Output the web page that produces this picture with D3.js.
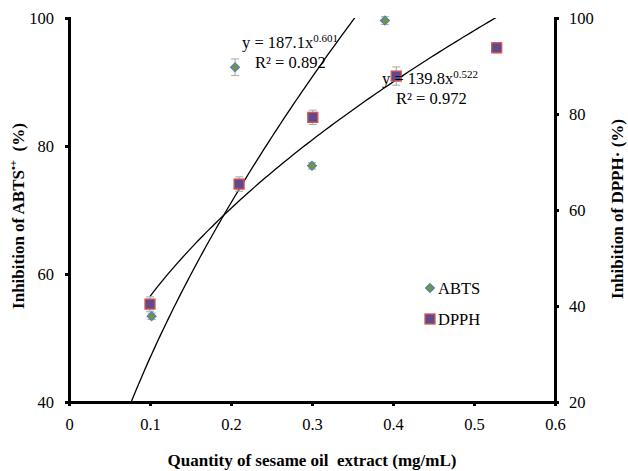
<!DOCTYPE html>
<html>
<head>
<meta charset="utf-8">
<script src="https://cdn.jsdelivr.net/npm/d3@7"></script>
<style>
  body { margin: 0; background: #fff; }
  svg text { font-family: "Liberation Serif", "Times New Roman", serif !important; }
  .label { font-size: 17px; font-weight: bold; }
  .eq { font-size: 16.5px; }
</style>
</head>
<body>
<svg width="628" height="471"></svg>
<script>
// data
var abtsX = [0.102, 0.205, 0.3, 0.39];
var abtsY = [53.4, 92.3, 76.9, 99.6];
var abtsErr = [0.5, 1.3, 0.5, 0.6];

var dpphX = [0.1, 0.21, 0.301, 0.404, 0.528];
var dpphY = [40.4, 65.4, 79.3, 87.9, 93.8];
var dpphErr = [1.5, 1.5, 1.5, 1.9, 1.1];

// power trendlines y = a * x^b (as printed on the chart)
var abtsFit = [187.1, 0.601];
var dpphFit = [139.8, 0.522];

var xTicks = [0, 0.1, 0.2, 0.3, 0.4, 0.5, 0.6];
var leftTicks = [40, 60, 80, 100];
var rightTicks = [20, 40, 60, 80, 100];

var svg = d3.select('svg');

var xScale = d3.scaleLinear().domain([0, 0.6]).range([69, 555]);
var yLeft = d3.scaleLinear().domain([40, 100]).range([402, 18]);
var yRight = d3.scaleLinear().domain([20, 100]).range([402, 18]);

svg.append('defs').append('clipPath').attr('id', 'plot')
    .append('rect').attr('x', 69).attr('y', 18).attr('width', 486).attr('height', 384);

// axes
svg.append('g').attr('class', 'x axis')
    .attr('transform', 'translate(0,402)')
    .call(d3.axisBottom(xScale).tickValues(xTicks).tickSize(4).tickPadding(12)
        .tickFormat(function(d) { return d === 0 ? '0' : d3.format('.1f')(d); }));

svg.append('g').attr('class', 'y axis')
    .attr('transform', 'translate(69,0)')
    .call(d3.axisLeft(yLeft).tickValues(leftTicks).tickSize(4).tickPadding(11));

svg.append('g').attr('class', 'y2 axis')
    .attr('transform', 'translate(555,0)')
    .call(d3.axisRight(yRight).tickValues(rightTicks).tickSize(4).tickPadding(10));

svg.selectAll('.axis').attr('font-size', 16.5);
svg.selectAll('.axis path').attr('stroke', '#000').attr('stroke-width', 3);
svg.selectAll('.axis line').attr('stroke', '#000').attr('stroke-width', 3);
svg.selectAll('.axis text').attr('fill', '#000');

// trendlines
var line = d3.line();
function fitPoints(fit, x0, x1, ys) {
    return d3.range(0, 101).map(function(i) {
        var x = x0 + (x1 - x0) * i / 100;
        return [xScale(x), ys(fit[0] * Math.pow(x, fit[1]))];
    });
}
var fits = svg.append('g').attr('clip-path', 'url(#plot)');
fits.append('path')
    .attr('d', line(fitPoints(abtsFit, 0.06, 0.39, yLeft)))
    .attr('fill', 'none').attr('stroke', '#000').attr('stroke-width', 1.3);
fits.append('path')
    .attr('d', line(fitPoints(dpphFit, 0.1, 0.53, yRight)))
    .attr('fill', 'none').attr('stroke', '#000').attr('stroke-width', 1.3);

// error bars
function errBars(xs, ys, es, scale) {
    var g = svg.append('g').attr('stroke', '#a6a6a6').attr('stroke-width', 1);
    xs.forEach(function(x, i) {
        var cx = xScale(x), t = scale(ys[i] + es[i]), b = scale(ys[i] - es[i]);
        g.append('line').attr('x1', cx).attr('x2', cx).attr('y1', t).attr('y2', b);
        g.append('line').attr('x1', cx - 4).attr('x2', cx + 4).attr('y1', t).attr('y2', t);
        g.append('line').attr('x1', cx - 4).attr('x2', cx + 4).attr('y1', b).attr('y2', b);
    });
}
errBars(abtsX, abtsY, abtsErr, yLeft);
errBars(dpphX, dpphY, dpphErr, yRight);

// markers
var diamond = d3.symbol().type(d3.symbolDiamond2).size(50);
svg.selectAll('.abts').data(abtsX).enter().append('path')
    .attr('class', 'abts')
    .attr('d', diamond)
    .attr('transform', function(d, i) { return 'translate(' + xScale(d) + ',' + yLeft(abtsY[i]) + ')'; })
    .attr('fill', '#77933c').attr('stroke', '#4f81bd').attr('stroke-width', 1.2);

svg.selectAll('.dpph').data(dpphX).enter().append('rect')
    .attr('class', 'dpph')
    .attr('x', function(d) { return xScale(d) - 5; })
    .attr('y', function(d, i) { return yRight(dpphY[i]) - 5; })
    .attr('width', 10).attr('height', 10)
    .attr('fill', '#5f4b8b').attr('stroke', '#d9534f').attr('stroke-width', 1.3);

// equations
var eq1 = svg.append('text').attr('class', 'eq').attr('x', 242).attr('y', 48);
eq1.append('tspan').text('y = 187.1x');
eq1.append('tspan').attr('font-size', 11).attr('dy', -6).text('0.601');
svg.append('text').attr('class', 'eq').attr('x', 255).attr('y', 68).text('R² = 0.892');

var eq2 = svg.append('text').attr('class', 'eq').attr('x', 382).attr('y', 84);
eq2.append('tspan').text('y = 139.8x');
eq2.append('tspan').attr('font-size', 11).attr('dy', -6).text('0.522');
svg.append('text').attr('class', 'eq').attr('x', 396).attr('y', 104).text('R² = 0.972');

// legend
svg.append('path').attr('d', diamond)
    .attr('transform', 'translate(430,288)')
    .attr('fill', '#77933c').attr('stroke', '#4f81bd').attr('stroke-width', 1.2);
svg.append('text').attr('class', 'eq').attr('x', 438).attr('y', 294).text('ABTS');
svg.append('rect').attr('x', 425).attr('y', 314).attr('width', 10).attr('height', 10)
    .attr('fill', '#5f4b8b').attr('stroke', '#d9534f').attr('stroke-width', 1.3);
svg.append('text').attr('class', 'eq').attr('x', 438).attr('y', 325).text('DPPH');

// axis titles
svg.append('text').attr('class', 'label')
    .attr('text-anchor', 'middle')
    .attr('transform', 'translate(312,466)')
    .text('Quantity of sesame oil\u00a0 extract (mg/mL)');

var lt = svg.append('text').attr('class', 'label')
    .attr('text-anchor', 'middle')
    .attr('transform', 'translate(24,216) rotate(-90)');
lt.append('tspan').text('Inhibition of ABTS');
lt.append('tspan').attr('font-size', 11).attr('dy', -7).text('•+');
lt.append('tspan').attr('dy', 7).text('\u00a0 (%)');

svg.append('text').attr('class', 'label')
    .attr('text-anchor', 'middle')
    .attr('transform', 'translate(623,209) rotate(-90)')
    .text('Inhibition of DPPH· (%)');
</script>
</body>
</html>
